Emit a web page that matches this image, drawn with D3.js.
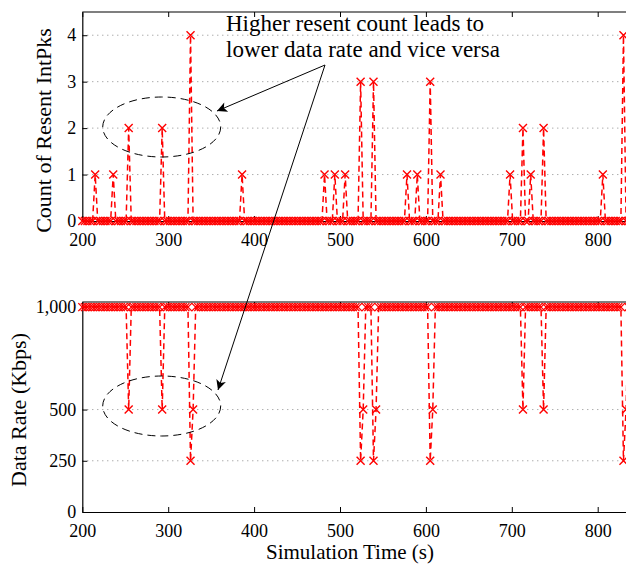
<!DOCTYPE html>
<html>
<head>
<meta charset="utf-8">
<script src="https://cdn.jsdelivr.net/npm/d3@7"></script>
<style>
  html, body { margin: 0; padding: 0; background: #fff; }
  svg { display: block; }
  text { font-family: "Liberation Serif", "Times New Roman", serif; fill: #000; }
</style>
</head>
<body>
<svg id="chart" width="626" height="566"></svg>
<script>
// ---- data ----
const sampleTimes = d3.range(200, 852, 3);             // simulation time samples (s)
const resentTimes  = [215, 236, 254, 293, 326, 386, 482, 494, 506, 524, 539, 578, 590, 605, 617, 698, 713, 722, 737, 806, 830];
const resentCounts = [1,   1,   2,   2,   4,   1,   1,   1,   1,   3,   3,   1,   1,   3,   1,   1,   2,   1,   2,   1,   4];
const rateTimes  = [254, 293, 326, 329, 524, 527, 539, 542, 605, 608, 713, 737, 830, 833];
const rateValues = [500, 500, 250, 500, 250, 500, 250, 500, 250, 500, 500, 500, 250, 500];
const baseCount = 0;
const baseRate = 1000;
const xTicks = [200, 300, 400, 500, 600, 700, 800];
const countTicks = [0, 1, 2, 3, 4];
const rateTicks = [0, 250, 500, 1000];
const annotationLines = ["Higher resent count leads to", "lower data rate and vice versa"];

const countMap = new Map(resentTimes.map((t, i) => [t, resentCounts[i]]));
const rateMap = new Map(rateTimes.map((t, i) => [t, rateValues[i]]));
const countSeries = sampleTimes.map(t => ({ t, v: countMap.has(t) ? countMap.get(t) : baseCount }));
const rateSeries = sampleTimes.map(t => ({ t, v: rateMap.has(t) ? rateMap.get(t) : baseRate }));

// ---- layout ----
const svg = d3.select("#chart");
const left = 82.3, right = 640;
const top1 = 12, bot1 = 221;
const top2 = 302, bot2 = 512;
const fontTick = 18, fontLabel = 21;

const x = d3.scaleLinear().domain([200, 850]).range([left, left + 650 * 0.859]);
const yC = d3.scaleLinear().domain([0, 4.5]).range([bot1, top1]);
const yR = d3.scaleLinear().domain([0, 1025]).range([bot2, top2]);

const red = "#ff0000";

function panel(y, yTicks, yTickFmt, series, gridVals) {
  const [b, t] = y.range();
  const g = svg.append("g");
  // grid
  g.selectAll("line.grid").data(gridVals).join("line")
    .attr("x1", left).attr("x2", right)
    .attr("y1", d => y(d)).attr("y2", d => y(d))
    .attr("stroke", "#8a8a8a").attr("stroke-width", 1).attr("stroke-dasharray", "1,4");
  // frame top
  g.append("line").attr("x1", left).attr("x2", right).attr("y1", t).attr("y2", t)
    .attr("stroke", "#000").attr("stroke-width", 1.2);
  // top ticks
  g.append("g").attr("transform", `translate(0,${t})`)
    .call(d3.axisTop(x).tickValues(xTicks).tickSizeInner(-5).tickSizeOuter(0).tickFormat(""))
    .call(s => s.select(".domain").remove())
    .call(s => s.selectAll("line").attr("stroke", "#000"));
  // bottom axis
  g.append("g").attr("transform", `translate(0,${b})`)
    .call(d3.axisBottom(x).tickValues(xTicks).tickSizeInner(-5).tickSizeOuter(0).tickPadding(12).tickFormat(d3.format("d")))
    .call(s => s.select(".domain").attr("stroke", "#000").attr("stroke-width", 1.2))
    .call(s => s.selectAll("text").attr("font-size", fontTick).attr("font-family", "Liberation Serif"));
  // left axis
  g.append("g").attr("transform", `translate(${left},0)`)
    .call(d3.axisLeft(y).tickValues(yTicks).tickSizeInner(-5).tickSizeOuter(0).tickPadding(6).tickFormat(yTickFmt))
    .call(s => s.select(".domain").attr("stroke", "#000").attr("stroke-width", 1.2))
    .call(s => s.selectAll("text").attr("font-size", fontTick).attr("font-family", "Liberation Serif"));
  // data line
  const line = d3.line().x(d => x(d.t)).y(d => y(d.v));
  g.append("path").datum(series).attr("d", line)
    .attr("fill", "none").attr("stroke", red).attr("stroke-width", 1.5)
    .attr("stroke-dasharray", "6,4");
  // markers
  g.selectAll("path.mk").data(series).join("path")
    .attr("class", "mk")
    .attr("transform", d => `translate(${x(d.t)},${y(d.v)})`)
    .attr("d", "M-4,-4L4,4M-4,4L4,-4")
    .attr("stroke", red).attr("stroke-width", 1.4).attr("fill", "none");
}

panel(yC, countTicks, d3.format("d"), countSeries, [1, 2, 3, 4]);
panel(yR, rateTicks, d3.format(","), rateSeries, [250, 500]);

// axis labels
svg.append("text").attr("transform", `translate(51,${(top1 + bot1) / 2 + 14}) rotate(-90)`)
  .attr("text-anchor", "middle").attr("font-size", fontLabel + 1).text("Count of Resent IntPks");
svg.append("text").attr("transform", `translate(26,${(top2 + bot2) / 2 + 3}) rotate(-90)`)
  .attr("text-anchor", "middle").attr("font-size", fontLabel + 1).text("Data Rate (Kbps)");
svg.append("text").attr("x", 350).attr("y", 559)
  .attr("text-anchor", "middle").attr("font-size", fontLabel).text("Simulation Time (s)");

// annotation
svg.append("text").attr("x", 226).attr("y", 31).attr("font-size", 23).text(annotationLines[0]);
svg.append("text").attr("x", 226).attr("y", 57).attr("font-size", 23).text(annotationLines[1]);

// ellipses
[[161.7, 127], [161.7, 406]].forEach(([cx, cy]) => {
  svg.append("ellipse").attr("cx", cx).attr("cy", cy).attr("rx", 59).attr("ry", 30)
    .attr("fill", "none").attr("stroke", "#000").attr("stroke-width", 1)
    .attr("stroke-dasharray", "8,5");
});

// arrows
const defs = svg.append("defs");
defs.append("marker").attr("id", "ah").attr("viewBox", "0 0 10 10")
  .attr("refX", 10).attr("refY", 5).attr("markerWidth", 14).attr("markerHeight", 10)
  .attr("markerUnits", "userSpaceOnUse").attr("orient", "auto")
  .append("path").attr("d", "M0,0L10,5L0,10L2.5,5Z").attr("fill", "#000");
const origin = [325, 65];
[[217, 111], [218, 390]].forEach(([tx, ty]) => {
  svg.append("line").attr("x1", origin[0]).attr("y1", origin[1]).attr("x2", tx).attr("y2", ty)
    .attr("stroke", "#000").attr("stroke-width", 1).attr("marker-end", "url(#ah)");
});
</script>
</body>
</html>
